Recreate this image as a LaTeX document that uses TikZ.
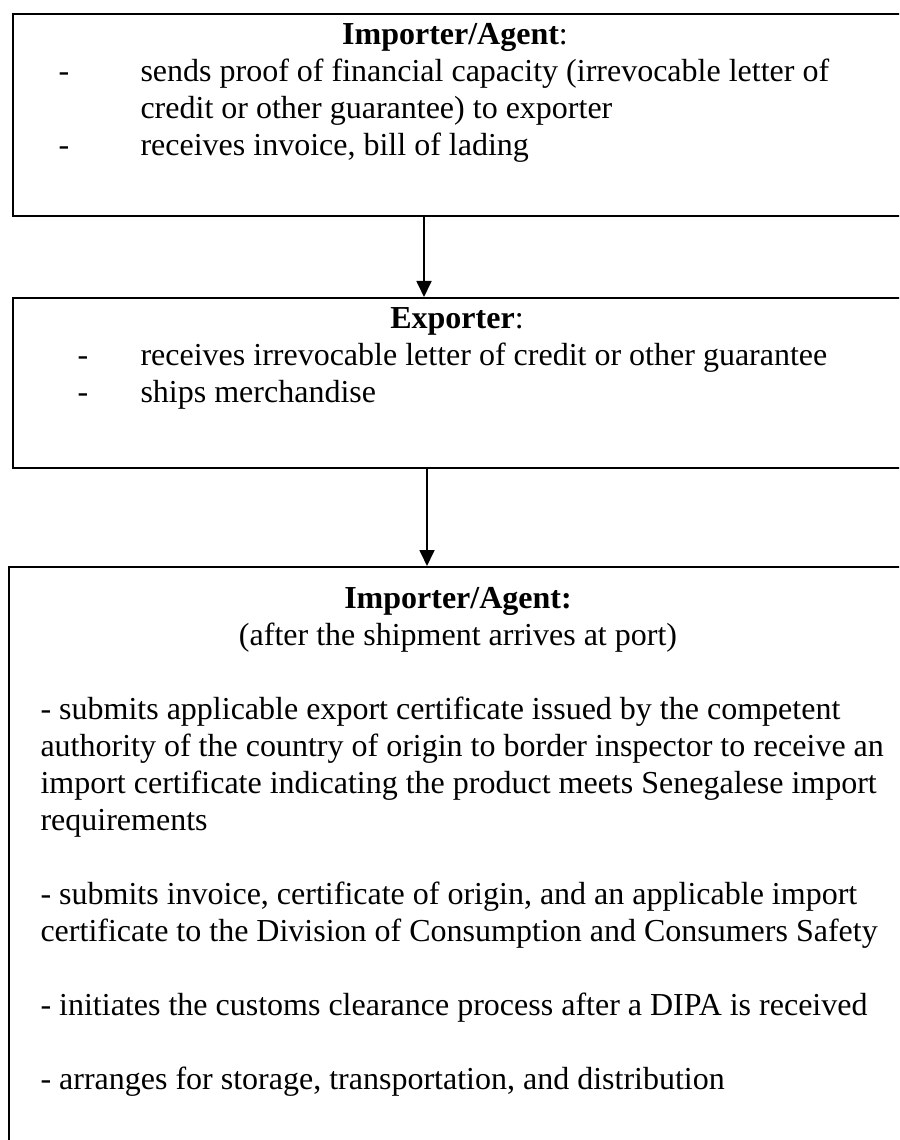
\documentclass[tikz,border=0pt]{standalone}
\usepackage{fontspec}
\setmainfont{Liberation Serif}
\usetikzlibrary{arrows.meta}
\begin{document}
\begin{tikzpicture}[x=0.375pt,y=-0.375pt,
  boxnode/.style={draw, line width=0.75pt, inner sep=0pt, anchor=north west},
  txt/.style={inner sep=0pt, anchor=base west, font=\fontsize{12pt}{13.8pt}\selectfont},
  ctxt/.style={inner sep=0pt, anchor=base, font=\fontsize{12pt}{13.8pt}\selectfont},
  conn/.style={line width=0.75pt, -{Triangle[width=5.6pt,length=6pt]}}]
\useasboundingbox (0,0) rectangle (899,1140);
\clip (0,0) rectangle (899,1140);
% boxes
\node[boxnode, minimum width=333.75pt, minimum height=75.75pt] (box1) at (12,13) {};
\node[boxnode, minimum width=333.75pt, minimum height=63.75pt] (box2) at (12,297) {};
\node[boxnode, minimum width=336.75pt, minimum height=225pt] (box3) at (8,566) {};
% box 1 text
\node[ctxt] (t1) at (455,45) {\textbf{Importer/Agent}:};
\node[txt] (d1a) at (58,82) {-};
\node[txt] (l1a) at (140,82) {sends proof of financial capacity (irrevocable letter of};
\node[txt] (l1b) at (140,119) {credit or other guarantee) to exporter};
\node[txt] (d1b) at (58,156) {-};
\node[txt] (l1c) at (140,156) {receives invoice, bill of lading};
% box 2 text
\node[ctxt] (t2) at (457,329) {\textbf{Exporter}:};
\node[txt] (d2a) at (77,366) {-};
\node[txt] (l2a) at (140,366) {receives irrevocable letter of credit or other guarantee};
\node[txt] (d2b) at (77,403) {-};
\node[txt] (l2b) at (140,403) {ships merchandise};
% box 3 text
\node[ctxt] (t3) at (458,608) {\textbf{Importer/Agent:}};
\node[ctxt] (s3) at (458,645) {(after the shipment arrives at port)};
\node[txt] (l3a) at (40,719) {- submits applicable export certificate issued by the competent};
\node[txt] (l3b) at (40,756) {authority of the country of origin to border inspector to receive an};
\node[txt] (l3c) at (40,793) {import certificate indicating the product meets Senegalese import};
\node[txt] (l3d) at (40,830) {requirements};
\node[txt] (l3e) at (40,904) {- submits invoice, certificate of origin, and an applicable import};
\node[txt] (l3f) at (40,941) {certificate to the Division of Consumption and Consumers Safety};
\node[txt] (l3g) at (40,1015) {- initiates the customs clearance process after a DIPA is received};
\node[txt] (l3h) at (40,1089) {- arranges for storage, transportation, and distribution};
% connectors
\coordinate (a1) at (424,0);
\coordinate (a2) at (427,0);
\draw[conn] (a1 |- box1.south) -- (a1 |- box2.north);
\draw[conn] (a2 |- box2.south) -- (a2 |- box3.north);
\end{tikzpicture}
\end{document}
